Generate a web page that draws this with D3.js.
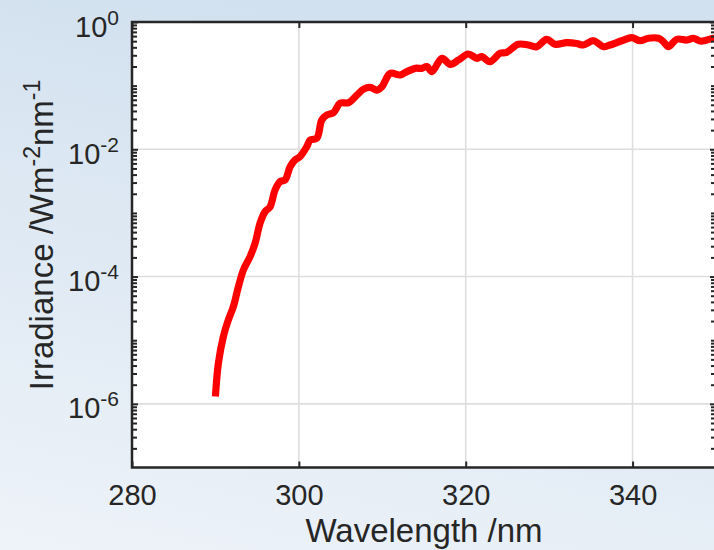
<!DOCTYPE html>
<html>
<head>
<meta charset="utf-8">
<script src="https://cdn.jsdelivr.net/npm/d3@7/dist/d3.min.js"></script>
<style>
  html, body { margin: 0; padding: 0; overflow: hidden; }
  text { font-family: "Liberation Sans", Arial, sans-serif; fill: #262626; }
</style>
</head>
<body>
<div id="chart"></div>
<script>
// spectrum (nm, W m-2 nm-1)
var wavelength = [290.0, 290.35, 290.95, 291.55, 292.15, 292.75, 293.35, 294.15, 294.75, 295.35,
  295.95, 296.55, 297.15, 297.75, 298.35, 298.95, 299.55, 300.15, 300.95, 301.35,
  302.15, 302.75, 303.35, 304.15, 304.95, 305.95, 306.95, 307.75, 308.55, 309.35,
  309.95, 310.95, 312.15, 312.95, 313.95, 314.75, 315.35, 315.95, 317.15, 318.15,
  319.15, 320.3, 321.35, 321.95, 322.9, 324.1, 324.9, 326.3, 327.5, 328.5,
  329.7, 330.7, 332.1, 333.3, 334.1, 335.3, 336.5, 337.3, 338.7, 339.9,
  340.9, 341.9, 343.1, 343.7, 344.3, 345.3, 346.5, 347.3, 348.1, 348.9,
  349.7, 350.0];
var irradiance = [1.3e-6, 4.3e-6, 1.14e-5, 2.08e-5, 3.37e-5, 6.9e-5, 1.27e-4, 2.06e-4, 3.33e-4, 6.9e-4,
  1.05e-3, 1.25e-3, 2.3e-3, 3.1e-3, 3.3e-3, 5.3e-3, 6.8e-3, 7.7e-3, 1.1e-2, 1.4e-2,
  1.49e-2, 2.9e-2, 3.46e-2, 3.76e-2, 5.3e-2, 5.4e-2, 7.1e-2, 8.8e-2, 9.4e-2, 8.5e-2,
  9.6e-2, 0.156, 0.147, 0.166, 0.187, 0.187, 0.199, 0.166, 0.269, 0.216,
  0.253, 0.314, 0.269, 0.285, 0.238, 0.322, 0.334, 0.447, 0.435, 0.409,
  0.535, 0.447, 0.473, 0.46, 0.435, 0.508, 0.409, 0.435, 0.508, 0.567,
  0.508, 0.555, 0.555, 0.49, 0.409, 0.535, 0.521, 0.555, 0.503, 0.521,
  0.555, 0.55];

var xTicks = [280, 300, 320, 340];
var yTickExponents = [0, -2, -4, -6];

var W = 714, H = 550;
var plotLeft = 132, plotTop = 22, plotRight = 716, plotBottom = 467.5;

var svg = d3.select("#chart").append("svg")
  .attr("width", W)
  .attr("height", H);

// figure background
var grad = svg.append("defs").append("linearGradient")
  .attr("id", "bg")
  .attr("x1", 0.3).attr("y1", 0).attr("x2", 0).attr("y2", 1);
grad.append("stop").attr("offset", "0%").attr("stop-color", "#d2e1ef");
grad.append("stop").attr("offset", "100%").attr("stop-color", "#eef3f9");

svg.append("rect")
  .attr("width", W).attr("height", H)
  .attr("fill", "url(#bg)");

svg.append("clipPath").attr("id", "plotclip")
  .append("rect")
    .attr("x", plotLeft).attr("y", plotTop)
    .attr("width", plotRight - plotLeft).attr("height", plotBottom - plotTop);

svg.append("rect")
  .attr("x", plotLeft).attr("y", plotTop)
  .attr("width", plotRight - plotLeft).attr("height", plotBottom - plotTop)
  .attr("fill", "#fff");

// scales
var x = d3.scaleLinear().domain([280, 350]).range([plotLeft, plotRight]);
var y = d3.scaleLog().domain([1e-7, 1]).range([plotBottom, plotTop]);

var yMajor = yTickExponents.map(function(e) { return Math.pow(10, e); });
var yMinor = [];
for (var e = -7; e < 0; e++) {
  for (var k = 1; k < 10; k++) {
    if (e === -7 && k === 1) continue;           // bottom edge
    if (k === 1 && e % 2 === 0) continue;        // labelled decades
    yMinor.push(k * Math.pow(10, e));
  }
}

// grid
svg.append("g").selectAll("line")
  .data(xTicks.filter(function(d) { return d > 280; }))
  .enter().append("line")
    .attr("x1", function(d) { return x(d); })
    .attr("x2", function(d) { return x(d); })
    .attr("y1", plotTop).attr("y2", plotBottom)
    .attr("stroke", "#dedede").attr("stroke-width", 1.6);

svg.append("g").selectAll("line")
  .data(yMajor.filter(function(d) { return d < 1; }))
  .enter().append("line")
    .attr("y1", function(d) { return y(d); })
    .attr("y2", function(d) { return y(d); })
    .attr("x1", plotLeft).attr("x2", plotRight)
    .attr("stroke", "#dedede").attr("stroke-width", 1.6);

// data line
var line = d3.line()
  .x(function(d, i) { return x(wavelength[i]); })
  .y(function(d) { return y(d); })
  .curve(d3.curveCatmullRom.alpha(0.5));

svg.append("path")
  .datum(irradiance)
  .attr("clip-path", "url(#plotclip)")
  .attr("d", line)
  .attr("fill", "none")
  .attr("stroke", "#ff0000")
  .attr("stroke-width", 7.2)
  .attr("stroke-linejoin", "round");

// axes
function styleAxis(g) {
  g.select(".domain").remove();
  g.selectAll(".tick line").attr("stroke", "#262626").attr("stroke-width", 2);
}

var xAxis = svg.append("g")
  .attr("transform", "translate(0," + plotBottom + ")")
  .call(d3.axisBottom(x).tickValues(xTicks).tickSize(-6).tickPadding(16))
  .call(styleAxis);
xAxis.selectAll(".tick text")
  .attr("font-size", 29)
  .attr("dy", "0.74em");

svg.append("g")
  .attr("transform", "translate(0," + plotTop + ")")
  .call(d3.axisTop(x).tickValues(xTicks).tickSize(-6).tickFormat(""))
  .call(styleAxis);

var yAxis = svg.append("g")
  .attr("transform", "translate(" + plotLeft + ",0)")
  .call(d3.axisLeft(y).tickValues(yMajor).tickSize(-6).tickPadding(13))
  .call(styleAxis);

yAxis.selectAll(".tick text")
  .attr("font-size", 29)
  .attr("dy", 14)
  .each(function(d) {
    var t = d3.select(this);
    t.text("10");
    t.append("tspan")
      .attr("font-size", 21)
      .attr("dy", -12)
      .text(Math.round(Math.log10(d)));
  });

svg.append("g")
  .attr("transform", "translate(" + plotLeft + ",0)")
  .call(d3.axisLeft(y).tickValues(yMinor).tickSize(-5).tickFormat(""))
  .call(styleAxis);

svg.append("g")
  .attr("transform", "translate(" + plotRight + ",0)")
  .call(d3.axisRight(y).tickValues(yMajor).tickSize(-6).tickFormat(""))
  .call(styleAxis);

svg.append("g")
  .attr("transform", "translate(" + plotRight + ",0)")
  .call(d3.axisRight(y).tickValues(yMinor).tickSize(-5).tickFormat(""))
  .call(styleAxis);

// box
svg.append("rect")
  .attr("x", plotLeft).attr("y", plotTop)
  .attr("width", plotRight - plotLeft).attr("height", plotBottom - plotTop)
  .attr("fill", "none")
  .attr("stroke", "#262626")
  .attr("stroke-width", 2.5);

// axis labels
svg.append("text")
  .attr("x", (plotLeft + plotRight) / 2)
  .attr("y", 542)
  .attr("text-anchor", "middle")
  .attr("font-size", 33)
  .text("Wavelength /nm");

var yl = svg.append("text")
  .attr("transform", "translate(53,235) rotate(-90)")
  .attr("text-anchor", "middle")
  .attr("font-size", 33);
yl.append("tspan").text("Irradiance /Wm");
yl.append("tspan").attr("font-size", 23).attr("dy", -13).text("-2");
yl.append("tspan").attr("dy", 13).text("nm");
yl.append("tspan").attr("font-size", 23).attr("dy", -13).text("-1");
</script>
</body>
</html>
